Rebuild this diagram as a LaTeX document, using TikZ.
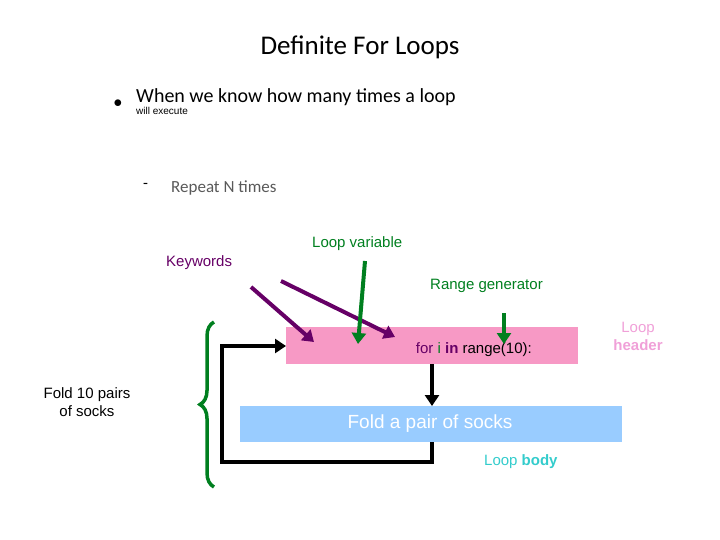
\documentclass[tikz,border=0pt]{standalone}
\usepackage{fontspec}
\setmainfont{Liberation Sans}
\newfontfamily\calfont{Carlito}
\usetikzlibrary{arrows.meta,decorations.pathreplacing}
\definecolor{pinkbox}{HTML}{F799C5}
\definecolor{bluebox}{HTML}{99CCFF}
\definecolor{kw}{HTML}{660066}
\definecolor{gr}{HTML}{007F1F}
\definecolor{pinktxt}{HTML}{F0A0D8}
\definecolor{tealc}{HTML}{33CCCC}
\begin{document}
\begin{tikzpicture}[x=1pt,y=-1pt,
  lbl/.style={font=\fontsize{15}{18}\selectfont,inner sep=0},
  arr/.style={line width=4pt,-{Triangle[length=11pt,width=14pt]}},
  blk/.style={line width=4pt,black}]
\useasboundingbox (0,0) rectangle (720,540);
\node[inner sep=0] (title) at (360,47) {\calfont\fontsize{27}{32}\selectfont Definite For Loops};
\node[inner sep=0,anchor=center] (bul) at (118,104) {\fontsize{18}{20}\selectfont$\bullet$};
\node[inner sep=0,anchor=north west,align=left] (b1) at (136,88) {\calfont\fontsize{20}{30}\selectfont When we know how many times a loop\\will execute};
\node[inner sep=0,anchor=west] (dash) at (143,186) {\calfont\fontsize{16}{18}\selectfont -};
\node[inner sep=0,anchor=west,text=black!65] (b2) at (171,188) {\calfont\fontsize{17}{20}\selectfont Repeat N times};
\fill[pinkbox] (286,327) rectangle (578,364);
\node[lbl,anchor=south east] (head) at (532,357) {\textcolor{kw}{for} \textcolor{gr}{i} \textcolor{kw}{\bfseries in} range(10):};
\coordinate (pinkL) at (286,346);
\coordinate (pinkB) at (432,364);
\fill[bluebox] (240,406) rectangle (622,442);
\node[lbl,text=white,font=\fontsize{19}{22}\selectfont] (fold) at (430,424) {Fold a pair of socks};
\coordinate (blueT) at (432,406);
\coordinate (blueB) at (432,442);
\draw[blk,-{Triangle[length=11pt,width=14pt]}] (pinkB) -- (blueT);
\draw[blk,line join=miter,-{Triangle[length=11pt,width=14pt]}] (blueB) -- (432,462) -- (222,462) -- (222,346) -- (pinkL);
\node[lbl,text=kw,anchor=west] (kwl) at (166,263) {Keywords};
\node[lbl,text=gr,anchor=west] (lv) at (312,244) {Loop variable};
\node[lbl,text=gr,anchor=west] (rg) at (430,286) {Range generator};
\node[lbl,text=pinktxt,align=center] (lh) at (638,336) {Loop\\\bfseries header};
\node[lbl,anchor=west] (lb) at (484,462) {\textcolor{tealc}{Loop \bfseries body}};
\node[lbl,align=center] (fold10) at (87,402) {Fold 10 pairs\\of socks};
\draw[arr,kw] (251,287) -- (314,342);
\draw[arr,kw] (281,281) -- (395,337);
\draw[arr,gr] (365,261) -- (358,344);
\draw[arr,gr] (504,313) -- (504,344);
\draw[gr,line width=3.5pt,decorate,decoration={brace,amplitude=14pt,aspect=0.5}] (214,487) -- (214,322);
\end{tikzpicture}
\end{document}
